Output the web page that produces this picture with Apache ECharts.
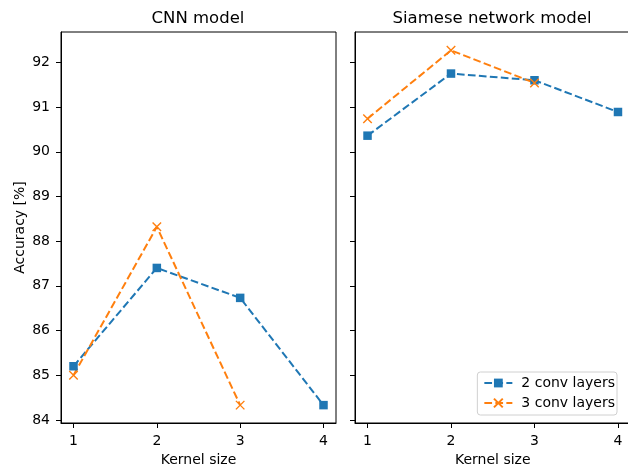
<!DOCTYPE html>
<html><head><meta charset="utf-8">
<script src="https://cdn.jsdelivr.net/npm/echarts@6/dist/echarts.min.js"></script>
<style>html,body{margin:0;padding:0;background:#fff}#c{width:628px;height:466px}</style>
</head><body><div id="c"></div>
<script>
const kernelSizes = [1, 2, 3, 4];
const xTicks = [1, 2, 3, 4];
const yTicks = [84, 85, 86, 87, 88, 89, 90, 91, 92];
const cnn2conv = [85.2, 87.4, 86.73, 84.33];
const cnn3conv = [85.0, 88.32, 84.33];
const siam2conv = [90.36, 91.75, 91.6, 90.89];
const siam3conv = [90.74, 92.27, 91.54];
const titles = ['CNN model', 'Siamese network model'];
const seriesNames = ['2 conv layers', '3 conv layers'];

const C1 = '#1f77b4', C2 = '#ff7f0e';
const FONT = 'DejaVu Sans';
const FS = 14;
const pair = (xs, ys) => ys.map((v, i) => [xs[i], v]);

function xAxis(gi) {
  return {
    type: 'value', gridIndex: gi, min: 0.85, max: 4.15,
    name: 'Kernel size', nameLocation: 'middle', nameGap: 29,
    nameTextStyle: {fontFamily: FONT, fontSize: FS, color: '#000'},
    axisLine: {show: true, lineStyle: {color: '#000', width: 1}},
    axisTick: {show: true, customValues: xTicks, length: 5, lineStyle: {color: '#000', width: 1}},
    axisLabel: {show: true, customValues: xTicks, fontFamily: FONT, fontSize: FS, color: '#000', margin: 11},
    splitLine: {show: false}
  };
}
function yAxis(gi, labels) {
  const a = {
    type: 'value', gridIndex: gi, min: 83.93, max: 92.68,
    axisLine: {show: true, lineStyle: {color: '#000', width: 1}},
    axisTick: {show: true, customValues: yTicks, length: 5, lineStyle: {color: '#000', width: 1}},
    axisLabel: {show: labels, customValues: yTicks, fontFamily: FONT, fontSize: FS, color: '#000', margin: 11},
    splitLine: {show: false}
  };
  if (labels) {
    a.name = 'Accuracy [%]'; a.nameLocation = 'middle'; a.nameGap = 34;
    a.nameTextStyle = {fontFamily: FONT, fontSize: FS, color: '#000'};
  }
  return a;
}
function s2(name, gi, data) {
  return {
    name, type: 'line', xAxisIndex: gi, yAxisIndex: gi, data,
    symbol: 'rect', symbolSize: 8.5, color: C1,
    itemStyle: {color: C1},
    lineStyle: {color: C1, width: 2, type: [7.7, 3.3]},
    animation: false
  };
}
function s3(name, gi, data) {
  return {
    name, type: 'line', xAxisIndex: gi, yAxisIndex: gi, data,
    symbol: 'path://M0,0L10,10M10,0L0,10', symbolSize: 8.5, color: C2,
    itemStyle: {color: 'none', borderColor: C2, borderWidth: 1.4},
    lineStyle: {color: C2, width: 2, type: [7.7, 3.3]},
    animation: false
  };
}

const chart = echarts.init(document.getElementById('c'), null, {renderer: 'canvas'});
chart.setOption({
  backgroundColor: '#fff',
  animation: false,
  title: [
    {text: titles[0], left: 193, top: 5, textAlign: 'center', textStyle: {fontFamily: FONT, fontSize: 16.5, fontWeight: 'normal', color: '#000'}},
    {text: titles[1], left: 487, top: 5, textAlign: 'center', textStyle: {fontFamily: FONT, fontSize: 16.5, fontWeight: 'normal', color: '#000'}}
  ],
  grid: [
    {left: 61, top: 32, width: 275, height: 391, outerBoundsMode: 'none', containLabel: false, show: true, borderColor: '#000', borderWidth: 1, backgroundColor: 'transparent'},
    {left: 355, top: 32, width: 275.5, height: 391, outerBoundsMode: 'none', containLabel: false, show: true, borderColor: '#000', borderWidth: 1, backgroundColor: 'transparent'}
  ],
  xAxis: [xAxis(0), xAxis(1)],
  yAxis: [yAxis(0, true), yAxis(1, false)],
  legend: {
    orient: 'vertical', right: 11, bottom: 51,
    data: seriesNames,
    itemWidth: 28, itemHeight: 11, itemGap: 6,
    backgroundColor: 'rgba(255,255,255,0.8)', borderColor: '#d0d0d0', borderWidth: 1, borderRadius: 3,
    padding: [4, 2, 5, 6],
    textStyle: {fontFamily: FONT, fontSize: FS, color: '#000', padding: [0, 0, 0, 4]}
  },
  series: [
    s2(seriesNames[0], 0, pair(kernelSizes, cnn2conv)),
    s3(seriesNames[1], 0, pair(kernelSizes, cnn3conv)),
    s2(seriesNames[0], 1, pair(kernelSizes, siam2conv)),
    s3(seriesNames[1], 1, pair(kernelSizes, siam3conv))
  ]
});
</script></body></html>
